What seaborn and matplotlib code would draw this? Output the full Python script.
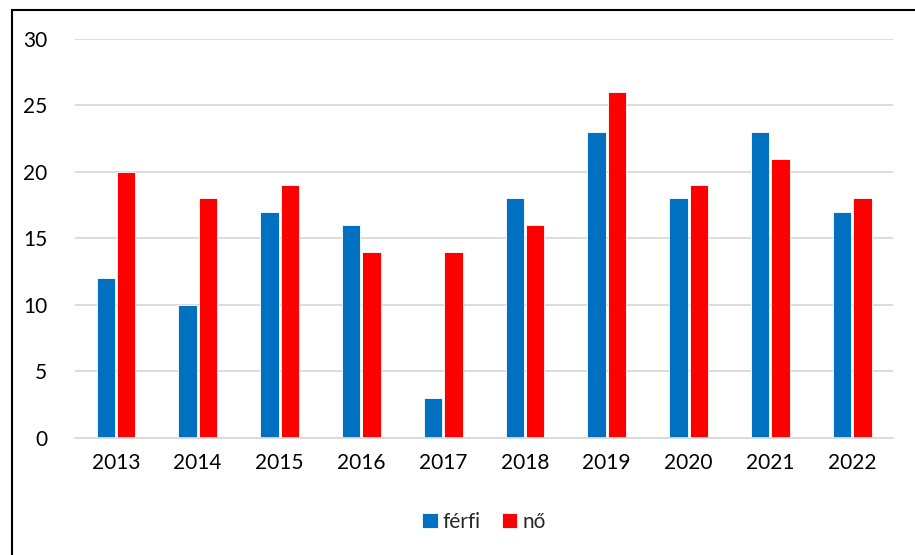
import pandas as pd
import matplotlib.pyplot as plt
import seaborn as sns
from matplotlib.patches import Rectangle

# adatok
years = ["2013", "2014", "2015", "2016", "2017", "2018", "2019", "2020", "2021", "2022"]
ferfi = [12, 10, 17, 16, 3, 18, 23, 18, 23, 17]
no = [20, 18, 19, 14, 14, 16, 26, 19, 21, 18]

df = pd.DataFrame({
    "ev": years * 2,
    "ertek": ferfi + no,
    "nem": ["férfi"] * len(years) + ["nő"] * len(years),
})

sns.set_style("white")
plt.rcParams["font.family"] = ["Lato", "DejaVu Sans"]

fig = plt.figure(figsize=(9.15, 5.55), dpi=100)
ax = fig.add_axes([0.082, 0.211, 0.894, 0.719])

sns.barplot(data=df, x="ev", y="ertek", hue="nem",
            palette={"férfi": "#0070C0", "nő": "#FF0000"}, saturation=1,
            width=0.5, gap=0.1, edgecolor="white", linewidth=0.6,
            ax=ax, legend=True)

ax.set_ylim(0, 30)
ax.set_xlim(-0.5, 9.5)
ax.set_yticks(range(0, 31, 5))
ax.yaxis.grid(True, color="#d9d9d9", linewidth=1.3)
ax.set_axisbelow(True)
for s in ["top", "right", "left"]:
    ax.spines[s].set_visible(False)
ax.spines["bottom"].set_color("#d9d9d9")
ax.spines["bottom"].set_linewidth(1.3)
ax.tick_params(axis="both", length=0, labelsize=15, colors="black")
ax.tick_params(axis="y", pad=20)
ax.tick_params(axis="x", pad=11)
ax.set_xlabel("")
ax.set_ylabel("")

ax.legend(loc="center", bbox_to_anchor=(0.5, -0.21), ncol=2, frameon=False,
          fontsize=15, handlelength=0.75, handleheight=0.75, handletextpad=0.25,
          columnspacing=1.0)

# keret
fig.patches.append(Rectangle((12 / 915, -0.1), 1.2, 1 - 10 / 555 + 0.1,
                             transform=fig.transFigure, fill=False,
                             edgecolor="black", linewidth=1.5))

fig.savefig("out.png", dpi=100)
